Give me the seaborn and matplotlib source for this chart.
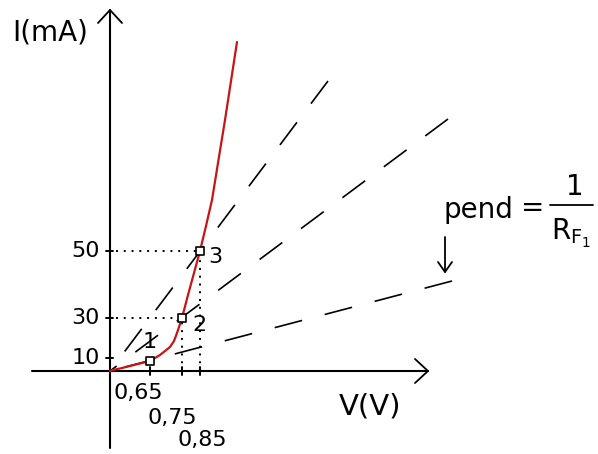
import matplotlib
matplotlib.use("Agg")
import matplotlib.pyplot as plt
import seaborn as sns
import pandas as pd

# ---- data (schematic diagram units, origin at the axes crossing) ----
point_labels = ["1", "2", "3"]
point_v = [40, 72, 90]
point_i = [10, 53, 120]

v_tick_labels = ["0,65", "0,75", "0,85"]
i_tick_labels = ["10", "30", "50"]
i_tick_pos = [13, 53, 120]

curve_v = [0, 3, 10, 20, 30, 40, 50, 60, 64, 67, 72, 78, 84, 90, 96, 102, 108, 115, 121, 127]
curve_i = [0, 1, 2.5, 5, 7.5, 10, 16, 24, 30, 38, 53, 76, 98, 120, 145, 171, 208, 251, 290, 329]

# load lines through the origin (end points)
line_names = ["A", "B", "C"]
line_end_v = [218, 338, 342]
line_end_i = [290, 252, 90]

sns.set_theme(style="white")
plt.rcParams["font.family"] = ["DejaVu Sans"]
plt.rcParams["mathtext.fontset"] = "dejavusans"
plt.rcParams["text.color"] = "black"

fig = plt.figure(figsize=(5.98, 4.54), dpi=100)
ax = fig.add_axes([0, 0, 1, 1])
ax.set_xlim(-110, 488)
ax.set_ylim(-83, 371)
ax.axis("off")

K = "black"
# axes with open arrow heads
ax.plot([0, 0], [-77, 361], color=K, lw=1.5)
ax.plot([-12, 0, 12], [348, 361, 348], color=K, lw=1.3)
ax.plot([-78, 318], [0, 0], color=K, lw=1.5)
ax.plot([305, 318, 305], [12, 0, -12], color=K, lw=1.3)

# dashed load lines (drawn from the far end so each ends with a dash)
for nm, ev, ei in zip(line_names, line_end_v, line_end_i):
    df = pd.DataFrame({"V": [ev, 0], "I": [ei, 0]})
    sns.lineplot(data=df, x="V", y="I", ax=ax, color=K, lw=1.2,
                 linestyle=(0, (17, 14)), sort=False, legend=False)

# dotted guide lines
dot = dict(color=K, lw=1.4, linestyle=(0, (1, 3)))
ax.plot([6, point_v[2]], [point_i[2], point_i[2]], **dot)
ax.plot([6, point_v[1]], [point_i[1], point_i[1]], **dot)
ax.plot([point_v[1], point_v[1]], [0, point_i[1]], **dot)
ax.plot([point_v[2], point_v[2]], [0, point_i[2]], **dot)

# diode curve
cdf = pd.DataFrame({"V": curve_v, "I": curve_i})
sns.lineplot(data=cdf, x="V", y="I", ax=ax, color="#c81414", lw=1.6, legend=False)

# operating points
pdf = pd.DataFrame({"V": point_v, "I": point_i, "lab": point_labels})
sns.scatterplot(data=pdf, x="V", y="I", ax=ax, marker="s", s=30,
                facecolor="white", edgecolor=K, linewidth=1.2, zorder=5, legend=False)

# ticks
for y in i_tick_pos:
    ax.plot([-4, 3], [y, y], color=K, lw=1.4)
for x in point_v:
    ax.plot([x, x], [-4, 4], color=K, lw=1.4)

fs = 16
for y, lab in zip(i_tick_pos, i_tick_labels):
    ax.text(-10, y, lab, ha="right", va="center", fontsize=fs, color=K)

v_label_pos = [(28, -22), (62, -47), (92, -69)]
for (x, y), lab in zip(v_label_pos, v_tick_labels):
    ax.text(x, y, lab, ha="center", va="center", fontsize=fs, color=K)

pt_label_pos = [(40, 29), (89, 46), (105, 114)]
for (x, y), lab in zip(pt_label_pos, point_labels):
    ax.text(x, y, lab, ha="center", va="center", fontsize=fs, color=K)

# axis titles
ax.text(-60, 338, "I(mA)", ha="center", va="center", fontsize=20, color=K)
ax.text(260, -35, "V(V)", ha="center", va="center", fontsize=21, color=K)

# slope annotation
ax.text(333, 153, "pend", ha="left", va="baseline", fontsize=20, color=K)
ax.text(423, 163, "=", ha="center", va="center", fontsize=20, color=K)
ax.text(465, 184, "1", ha="center", va="center", fontsize=20, color=K)
ax.plot([440, 483], [166, 166], color=K, lw=1.3)
ax.text(441, 131, r"$\mathregular{R_{F_1}}$", ha="left", va="baseline", fontsize=20, color=K)
ax.plot([335, 335], [134, 99], color=K, lw=1.3)
ax.plot([328, 335, 342], [109, 99, 109], color=K, lw=1.3)

fig.savefig("out.png", dpi=100)
